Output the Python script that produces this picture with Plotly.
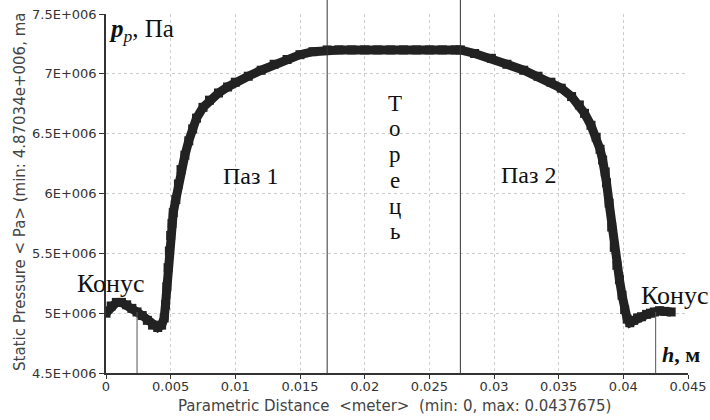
import plotly.graph_objects as go

# Parametric distance, m
distance = [
    0.0000, 0.0004, 0.0008, 0.0012, 0.0016, 0.0020, 0.0024, 0.0028, 0.0032, 0.0036,
    0.0040, 0.0043, 0.0045, 0.0046, 0.0047, 0.0048, 0.0049, 0.0050, 0.0051, 0.0052,
    0.0054, 0.0056, 0.0058, 0.0061, 0.0064, 0.0067, 0.0070, 0.0075, 0.0080, 0.0087,
    0.0094, 0.0100, 0.0110, 0.0120, 0.0130, 0.0140, 0.0150, 0.0160, 0.0171, 0.0180,
    0.0190, 0.0200, 0.0210, 0.0220, 0.0230, 0.0240, 0.0250, 0.0260, 0.0270, 0.0274,
    0.0285, 0.0298, 0.0310, 0.0323, 0.0334, 0.0344, 0.0352, 0.0360, 0.0366, 0.0370,
    0.0375, 0.0379, 0.0382, 0.0384, 0.0386, 0.0387, 0.0389, 0.0391, 0.0393, 0.0395,
    0.0397, 0.0399, 0.0401, 0.0403, 0.0405, 0.0408, 0.0411, 0.0414, 0.0418, 0.0421,
    0.0424, 0.0428, 0.0432, 0.0437,
]
# Static pressure, Pa
pressure = [
    5.00e6, 5.06e6, 5.09e6, 5.09e6, 5.07e6, 5.04e6, 5.01e6, 4.98e6, 4.94e6, 4.90e6,
    4.88e6, 4.90e6, 4.96e6, 5.07e6, 5.22e6, 5.38e6, 5.52e6, 5.65e6, 5.75e6, 5.84e6,
    5.95e6, 6.08e6, 6.20e6, 6.32e6, 6.44e6, 6.54e6, 6.63e6, 6.72e6, 6.78e6, 6.84e6,
    6.89e6, 6.93e6, 6.98e6, 7.03e6, 7.08e6, 7.12e6, 7.16e6, 7.185e6, 7.20e6, 7.20e6,
    7.20e6, 7.20e6, 7.20e6, 7.20e6, 7.20e6, 7.20e6, 7.20e6, 7.20e6, 7.20e6, 7.20e6,
    7.17e6, 7.13e6, 7.08e6, 7.03e6, 6.98e6, 6.93e6, 6.88e6, 6.81e6, 6.74e6, 6.67e6,
    6.57e6, 6.47e6, 6.37e6, 6.28e6, 6.18e6, 6.09e6, 5.92e6, 5.72e6, 5.55e6, 5.40e6,
    5.28e6, 5.15e6, 5.03e6, 4.95e6, 4.92e6, 4.94e6, 4.96e6, 4.97e6, 4.99e6, 5.00e6,
    5.01e6, 5.02e6, 5.015e6, 5.01e6,
]

x_tickvals = [0, 0.005, 0.01, 0.015, 0.02, 0.025, 0.03, 0.035, 0.04, 0.045]
x_ticktext = ["0", "0.005", "0.01", "0.015", "0.02", "0.025", "0.03", "0.035", "0.04", "0.045"]
y_tickvals = [4.5e6, 5.0e6, 5.5e6, 6.0e6, 6.5e6, 7.0e6, 7.5e6]
y_ticktext = ["4.5E+006", "5E+006", "5.5E+006", "6E+006", "6.5E+006", "7E+006", "7.5E+006"]

# Zone boundaries (slot 1 | end face | slot 2) and cone marker lines
zone_bounds = [0.0171, 0.0274]
cone_marks_x = [0.0024, 0.0425]
cone_marks_y = [5.01e6, 5.01e6]

# Vertical label letters for the end-face zone
torets_letters = ["Т", "о", "р", "е", "ц", "ь"]

fig = go.Figure()
fig.add_trace(go.Scatter(
    x=distance, y=pressure, mode="lines+markers",
    line=dict(color="#222222", width=9),
    marker=dict(symbol="square", size=9, color="#222222"),
    showlegend=False, hoverinfo="skip",
))

shapes = []
for xb in zone_bounds:
    shapes.append(dict(type="line", xref="x", yref="paper", x0=xb, x1=xb, y0=0, y1=1.05,
                       line=dict(color="#333333", width=1)))
for xm, ym in zip(cone_marks_x, cone_marks_y):
    shapes.append(dict(type="line", xref="x", yref="y", x0=xm, x1=xm, y0=4.5e6, y1=ym,
                       line=dict(color="#555555", width=1)))

serif = "Liberation Serif"
H = 359.0   # plot height in px
ann = []
def pa(text, px, py, size, xanchor="center", yanchor="middle"):
    ann.append(dict(text=text, x=(px - 106) / 582.0, y=(373 - py) / H, xref="paper", yref="paper",
                    xanchor=xanchor, yanchor=yanchor, showarrow=False,
                    font=dict(family=serif, size=size, color="#111")))

pa("<i><b>p</b></i><sub><i>p</i></sub>, Па", 107, 31, 25, xanchor="left")
pa("Паз 1", 250, 176, 24)
pa("Паз 2", 528, 175, 24)
for i, ch in enumerate(torets_letters):
    pa(ch, 395, 103 + 25.8 * i, 23)
pa("Конус", 111, 283, 26)
pa("Конус", 675, 295, 26)
pa("<b><i>h</i>, м</b>", 681, 354, 22)

ann.append(dict(text="Static Pressure < Pa> (min: 4.87034e+006, ma", textangle=-90,
                x=(20 - 106) / 582.0, y=0.0, xref="paper", yref="paper", xanchor="center", yanchor="bottom",
                showarrow=False, font=dict(family="DejaVu Sans", size=15, color="#444")))
ann.append(dict(text="Parametric Distance  <meter>  (min: 0, max: 0.0437675)", x=(394 - 106) / 582.0,
                y=(373 - 406) / H, xref="paper", yref="paper", xanchor="center", yanchor="middle",
                showarrow=False, font=dict(family="DejaVu Sans", size=15, color="#444")))

fig.update_layout(
    width=710, height=420,
    margin=dict(l=106, r=22, t=14, b=47, autoexpand=False),
    paper_bgcolor="white", plot_bgcolor="white",
    shapes=shapes, annotations=ann,
    xaxis=dict(range=[0, 0.045], tickvals=x_tickvals, ticktext=x_ticktext,
               showline=True, linecolor="#333", linewidth=1.5, ticks="outside", ticklen=4,
               tickcolor="#333", showgrid=True, gridcolor="#cccccc", griddash="dot", gridwidth=1,
               zeroline=False, automargin=False, ticklabelstandoff=-3,
               tickfont=dict(family="DejaVu Sans", size=13, color="#333")),
    yaxis=dict(range=[4.5e6, 7.5e6], tickvals=y_tickvals, ticktext=y_ticktext,
               showline=True, linecolor="#333", linewidth=1.5, ticks="outside", ticklen=5,
               tickcolor="#333", showgrid=True, gridcolor="#cccccc", griddash="dot", gridwidth=1,
               zeroline=False, automargin=False,
               tickfont=dict(family="DejaVu Sans", size=13, color="#333")),
)

fig.write_html("out.html", config={"displayModeBar": False},
               post_script="document.body.style.margin='0';document.body.style.overflow='hidden';")
